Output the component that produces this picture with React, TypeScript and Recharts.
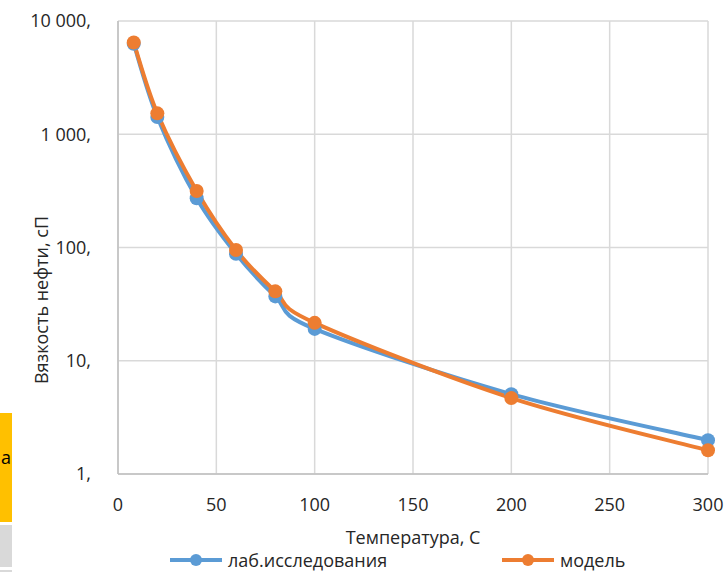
import React from 'react';
import {
    CartesianGrid,
    Label,
    Legend,
    Line,
    LineChart,
    XAxis,
    YAxis,
} from 'recharts';

// температура, C
const temperatures = [8, 20, 40, 60, 80, 100, 200, 300];
// вязкость нефти, сП
const labValues = [6300, 1420, 272, 88, 37, 19.1, 5.07, 1.99];
const modelValues = [6450, 1530, 315, 95, 41, 21.6, 4.68, 1.62];

const xTicks = [0, 50, 100, 150, 200, 250, 300];
const yTicks = [1, 10, 100, 1000, 10000];

const seriesNames = ['лаб.исследования', 'модель'];
const seriesColors = ['#5B9BD5', '#ED7D31'];

const data = temperatures.map((t, i) => ({
    t,
    lab: labValues[i],
    model: modelValues[i],
}));

const FONT = '"Open Sans", "Noto Sans", sans-serif';
const TEXT = '#262626';

const formatY = (v: number) => v.toLocaleString('ru-RU').replace(/\u00a0/g, ' ') + ',';

// сглаживание как в Excel (кривая Катмулла-Рома через точки)
const excelSmooth = (context: any) => {
    let pts: Array<[number, number]> = [];
    return {
        areaStart() {},
        areaEnd() {},
        lineStart() {
            pts = [];
        },
        lineEnd() {
            if (!pts.length) return;
            context.moveTo(pts[0][0], pts[0][1]);
            for (let i = 0; i < pts.length - 1; i++) {
                const p0 = pts[i - 1] ?? pts[i];
                const p1 = pts[i];
                const p2 = pts[i + 1];
                const p3 = pts[i + 2] ?? p2;
                context.bezierCurveTo(
                    p1[0] + (p2[0] - p0[0]) / 6,
                    p1[1] + (p2[1] - p0[1]) / 6,
                    p2[0] - (p3[0] - p1[0]) / 6,
                    p2[1] - (p3[1] - p1[1]) / 6,
                    p2[0],
                    p2[1],
                );
            }
        },
        point(x: number, y: number) {
            pts.push([+x, +y]);
        },
    };
};

const renderLegend = () => (
    <div style={{position: 'relative', width: 725, height: 26, fontFamily: FONT, fontSize: 18, color: TEXT}}>
        {seriesNames.map((name, i) => (
            <div
                key={name}
                style={{position: 'absolute', left: i === 0 ? 170 : 502, top: 3, display: 'flex', alignItems: 'center'}}
            >
                <svg width={52} height={16}>
                    <line x1={0} y1={8} x2={52} y2={8} stroke={seriesColors[i]} strokeWidth={4}/>
                    <circle cx={26} cy={8} r={6} fill={seriesColors[i]}/>
                </svg>
                <span style={{marginLeft: 6, lineHeight: '22px'}}>{name}</span>
            </div>
        ))}
    </div>
);

export default function App() {
    return (
        <div style={{position: 'absolute', left: 0, top: 0, width: 725, height: 572, overflow: 'hidden', background: '#fff'}}>
            {/* обрезанные ячейки листа слева */}
            <div style={{position: 'absolute', left: 0, top: 413, width: 12, height: 109, background: '#FFC000', overflow: 'hidden'}}>
                <span style={{position: 'absolute', right: 1, top: 33, fontFamily: FONT, fontSize: 18, color: '#000', lineHeight: '22px'}}>а</span>
            </div>
            <div style={{position: 'absolute', left: 0, top: 525, width: 12, height: 42, background: '#D9D9D9'}}/>
            <div style={{position: 'absolute', left: 0, top: 570, width: 12, height: 2, background: '#D9D9D9'}}/>

            <LineChart
                width={725}
                height={572}
                data={data}
                margin={{top: 21, right: 17, left: 0, bottom: 0}}
                style={{fontFamily: FONT}}
            >
                <CartesianGrid stroke="#D9D9D9" strokeWidth={1.5} vertical horizontal/>
                <XAxis
                    dataKey="t"
                    type="number"
                    domain={[0, 300]}
                    ticks={xTicks}
                    interval={0}
                    height={72}
                    tickSize={0}
                    tickMargin={24}
                    axisLine={{stroke: '#BFBFBF', strokeWidth: 1.5}}
                    tick={{fill: TEXT, fontSize: 18}}
                >
                    <Label
                        content={({viewBox}: any) => (
                            <text
                                x={viewBox.x + viewBox.width / 2}
                                y={viewBox.y + 70}
                                textAnchor="middle"
                                fill={TEXT}
                                fontSize={18}
                            >
                                Температура, С
                            </text>
                        )}
                    />
                </XAxis>
                <YAxis
                    scale="log"
                    domain={[1, 10000]}
                    ticks={yTicks}
                    interval={0}
                    allowDataOverflow
                    width={118}
                    tickSize={0}
                    tickMargin={27}
                    tickFormatter={formatY}
                    axisLine={{stroke: '#BFBFBF', strokeWidth: 1.5}}
                    tick={{fill: TEXT, fontSize: 18}}
                >
                    <Label
                        content={() => (
                            <text
                                x={48}
                                y={300}
                                transform="rotate(-90, 48, 300)"
                                textAnchor="middle"
                                fill={TEXT}
                                fontSize={18}
                            >
                                Вязкость нефти, сП
                            </text>
                        )}
                    />
                </YAxis>
                <Legend verticalAlign="bottom" height={26} content={renderLegend}/>
                <Line
                    dataKey="lab"
                    name={seriesNames[0]}
                    type={excelSmooth as any}
                    stroke={seriesColors[0]}
                    strokeWidth={4}
                    dot={{r: 7, fill: seriesColors[0], stroke: seriesColors[0], strokeWidth: 0}}
                    activeDot={false}
                    isAnimationActive={false}
                />
                <Line
                    dataKey="model"
                    name={seriesNames[1]}
                    type={excelSmooth as any}
                    stroke={seriesColors[1]}
                    strokeWidth={4}
                    dot={{r: 7, fill: seriesColors[1], stroke: seriesColors[1], strokeWidth: 0}}
                    activeDot={false}
                    isAnimationActive={false}
                />
            </LineChart>
        </div>
    );
}
